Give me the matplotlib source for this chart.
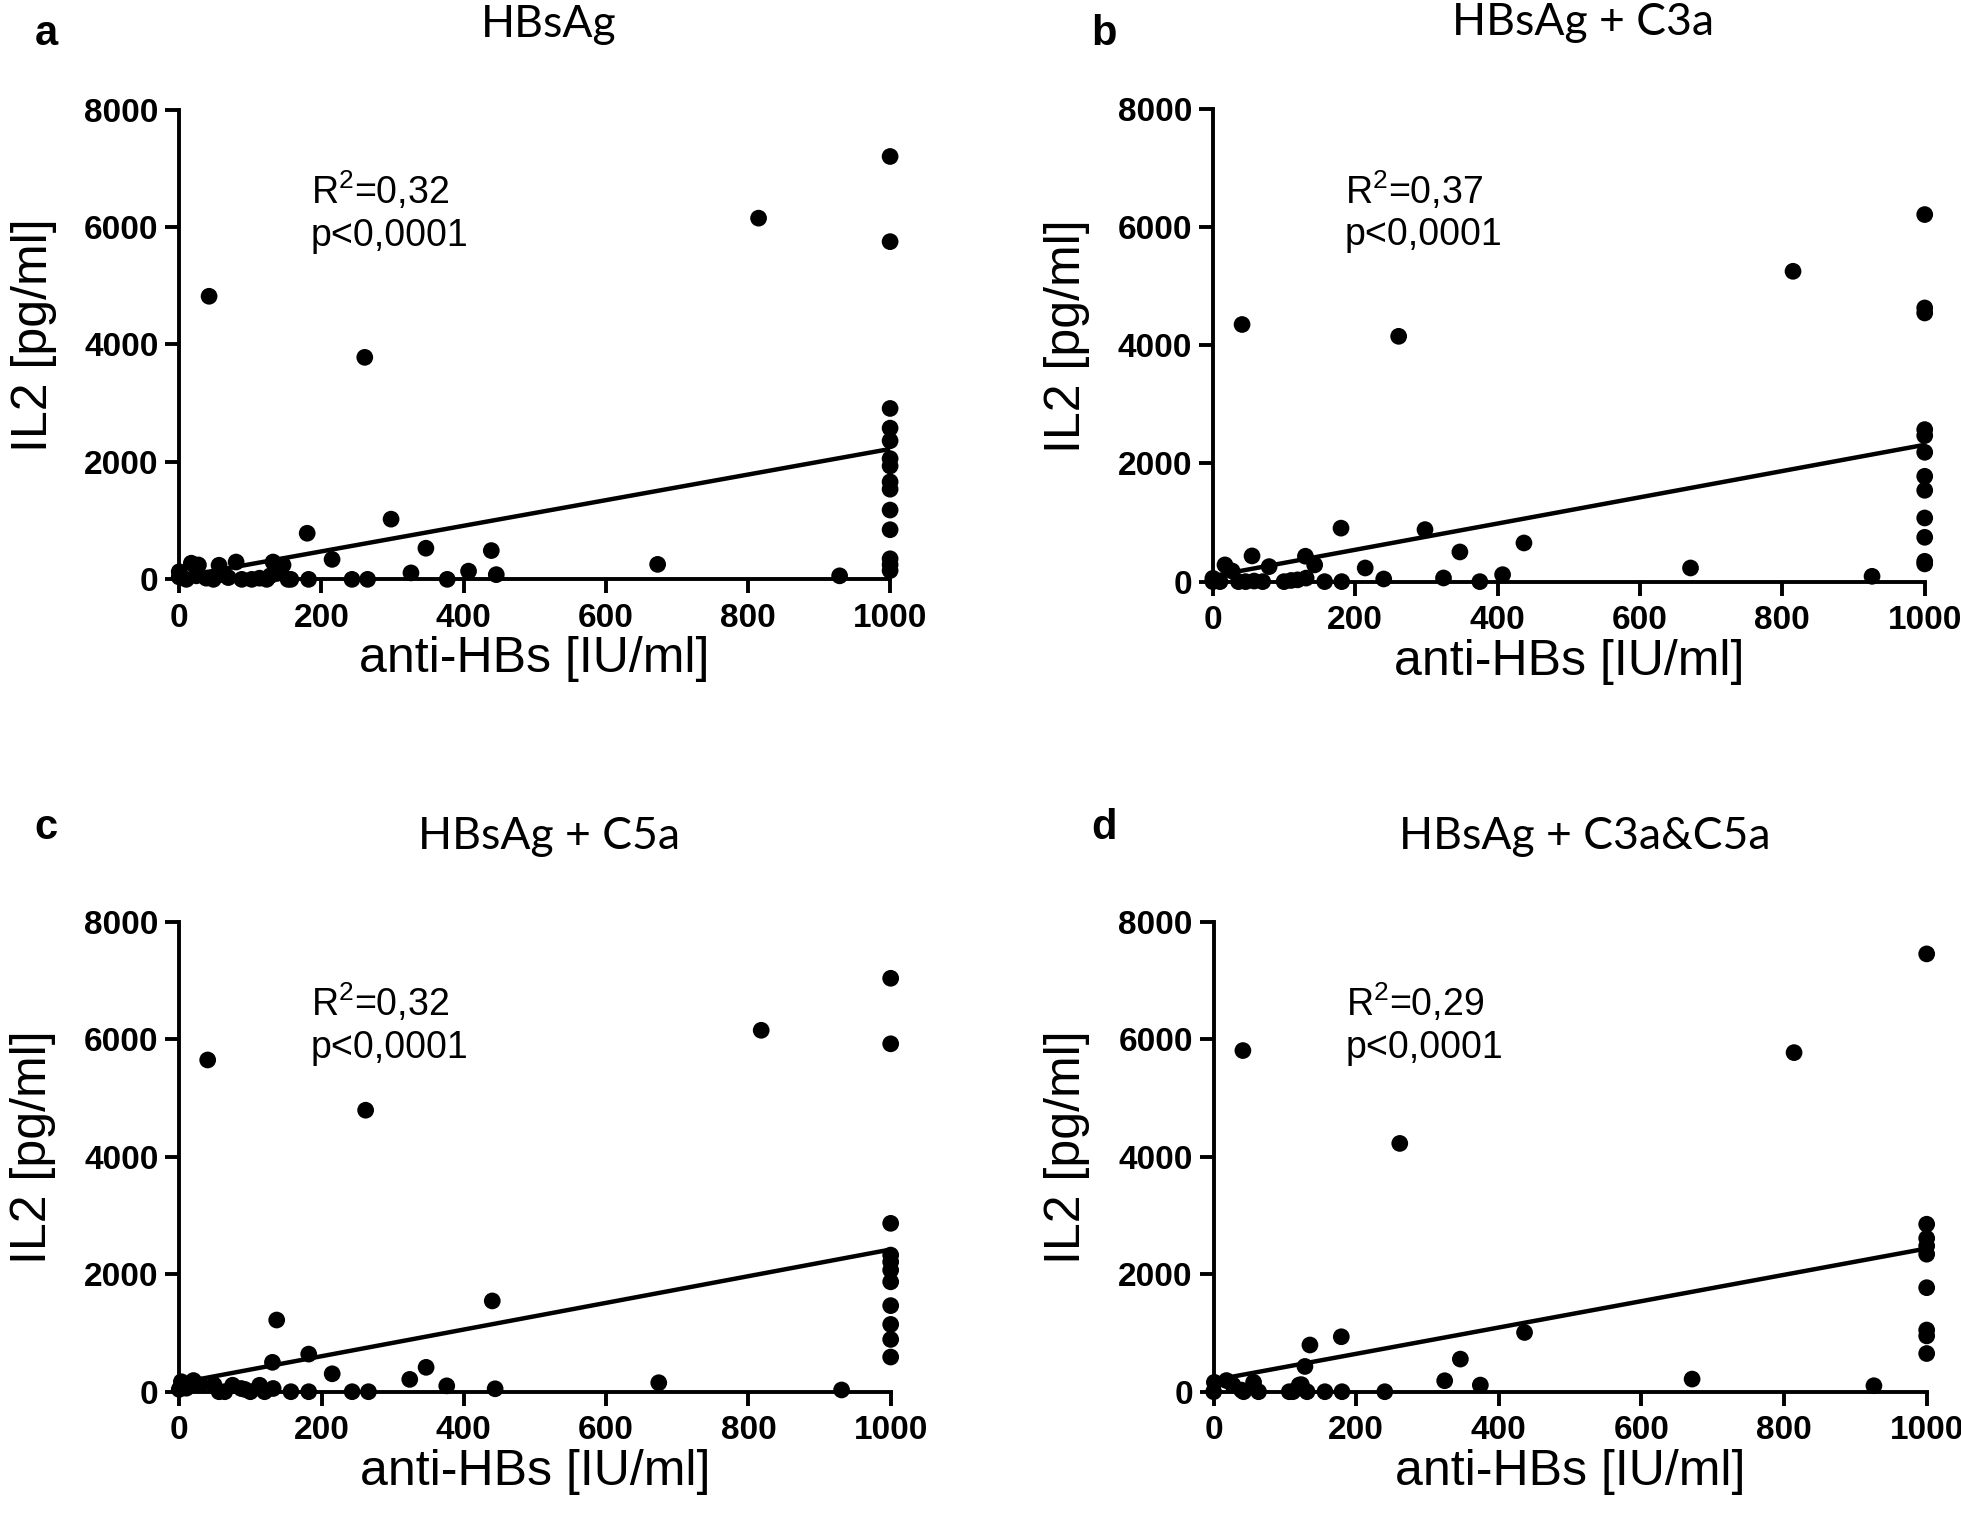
import matplotlib
matplotlib.use("Agg")
import matplotlib.pyplot as plt

# --- data: anti-HBs [IU/ml] vs IL2 [pg/ml] ---
A_X = [42, 261, 815, 180, 298, 215, 347, 439, 326, 407, 446, 673, 929, 377, 243, 265,
       157, 182, 132, 146, 80, 56, 17, 27, 0,
       0, 10, 24, 38, 48, 57, 69, 88, 102, 113, 123, 128, 137, 153,
       1000, 1000, 1000, 1000, 1000, 1000, 1000, 1000, 1000, 1000, 1000, 1000, 1000, 1000]
A_Y = [4820, 3780, 6150, 785, 1025, 340, 530, 490, 110, 140, 80, 255, 60, 0, 0, 0,
       0, 0, 295, 245, 295, 240, 275, 245, 130,
       40, 0, 60, 20, 0, 80, 30, 0, 0, 20, 0, 60, 100, 0,
       7200, 5750, 2910, 2575, 2360, 2055, 1930, 1660, 1535, 1180, 845, 350, 250, 150]

B_X = [41, 261, 815, 180, 298, 347, 437, 214, 671, 926, 407, 324, 240, 375, 181, 157,
       130, 143, 55, 79, 17, 27, 0,
       0, 10, 36, 46, 58, 70, 100, 110, 119, 131,
       1000, 1000, 1000, 1000, 1000, 1000, 1000, 1000, 1000, 1000, 1000, 1000]
B_Y = [4350, 4150, 5250, 905, 880, 502, 654, 231, 231, 90, 118, 62, 45, 0, 0, 0,
       430, 283, 435, 254, 283, 180, 56,
       0, 0, 0, 0, 10, 0, 0, 20, 30, 60,
       6210, 4630, 4545, 2572, 2470, 2188, 1782, 1545, 1077, 750, 344, 300]

C_X = [40, 262, 818, 137, 440, 182, 131, 215, 347, 324, 376, 444, 674, 931, 243, 266,
       182, 157, 113, 132, 20, 3,
       0, 10, 30, 49, 56, 64, 75, 87, 92, 100, 120,
       1000, 1000, 1000, 1000, 1000, 1000, 1000, 1000, 1000, 1000, 1000]
C_Y = [5645, 4790, 6150, 1220, 1545, 640, 500, 305, 415, 210, 100, 50, 153, 30, 0, 0,
       0, 0, 110, 55, 190, 170,
       40, 60, 115, 115, 0, 0, 110, 55, 40, 0, 0,
       7035, 5920, 2865, 2325, 2210, 2070, 1870, 1465, 1145, 890, 590]

D_X = [41, 261, 814, 436, 179, 135, 128, 346, 324, 374, 671, 926, 240, 180, 156, 131,
       123, 111, 63, 56, 42, 18, 1, 0, 27, 39, 106, 120,
       1000, 1000, 1000, 1000, 1000, 1000, 1000, 1000, 1000]
D_Y = [5805, 4225, 5770, 1008, 935, 795, 430, 555, 187, 113, 215, 102, 0, 0, 0, 0,
       120, 0, 0, 160, 0, 190, 160, 0, 114, 28, 0, 114,
       7450, 2850, 2610, 2480, 2340, 1770, 1050, 950, 650]

# linear fit lines (intercept, slope) as drawn in the figure
FITS = [(40, 2.18), (95, 2.22), (150, 2.27), (197, 2.24)]
R2_TEXT = ["0,32", "0,37", "0,32", "0,29"]
TITLES = ["HBsAg", "HBsAg + C3a", "HBsAg + C5a", "HBsAg + C3a&C5a"]
LETTERS = ["a", "b", "c", "d"]
X_TICKS = [0, 200, 400, 600, 800, 1000]
Y_TICKS = [0, 2000, 4000, 6000, 8000]

PANELS = [(A_X, A_Y), (B_X, B_Y), (C_X, C_Y), (D_X, D_Y)]
AX_RECTS = [
    (0.0914, 0.6196, 0.3625, 0.3085),
    (0.6185, 0.6181, 0.3630, 0.3105),
    (0.0914, 0.0862, 0.3628, 0.3087),
    (0.6189, 0.0862, 0.3636, 0.3087),
]
LETTER_POS = [(0.0235, 0.9705), (0.563, 0.9705), (0.0235, 0.449), (0.563, 0.449)]

SANS = ["Liberation Sans", "DejaVu Sans"]
NARROW = ["Liberation Sans Narrow", "Liberation Sans", "DejaVu Sans"]
TITLE_FONT = ["Lato", "Open Sans", "DejaVu Sans"]

plt.rcParams["font.family"] = SANS
plt.rcParams["mathtext.default"] = "regular"

fig = plt.figure(figsize=(19.61, 15.23), dpi=100)

for i, (xs, ys) in enumerate(PANELS):
    ax = fig.add_axes(AX_RECTS[i])
    ax.scatter(xs, ys, s=145, color="black", edgecolors="none", zorder=3, clip_on=False)

    b0, b1 = FITS[i]
    ax.plot([0, 1000], [b0, b0 + b1 * 1000], color="black", lw=3.2, zorder=2,
            clip_on=False, solid_capstyle="butt")

    ax.set_xlim(0, 1000)
    ax.set_ylim(0, 8000)
    ax.set_xticks(X_TICKS)
    ax.set_yticks(Y_TICKS)
    for side in ("top", "right"):
        ax.spines[side].set_visible(False)
    for side in ("left", "bottom"):
        ax.spines[side].set_linewidth(2.8)
    ax.tick_params(axis="both", direction="out", length=10, width=2.8, color="black")
    ax.tick_params(axis="x", pad=7)
    ax.tick_params(axis="y", pad=5)
    for lab in ax.get_xticklabels() + ax.get_yticklabels():
        lab.set_fontsize(24)
        lab.set_fontweight("bold")
        lab.set_family(SANS)

    ax.text(-0.205, 0.52, "IL2 [pg/ml]", transform=ax.transAxes, rotation=90,
            ha="center", va="center", fontsize=36, family=SANS)
    ax.text(0.5, -0.17, "anti-HBs [IU/ml]", transform=ax.transAxes,
            ha="center", va="center", fontsize=36, family=SANS)

    ax.text(185, 6980, f"R$^2$={R2_TEXT[i]}\np<0,0001", ha="left", va="top",
            fontsize=27, family=NARROW, linespacing=1.2)

    ax.text(0.52, 1.155, TITLES[i], transform=ax.transAxes, ha="center",
            va="baseline", fontsize=32, family=TITLE_FONT)

    fig.text(LETTER_POS[i][0], LETTER_POS[i][1], LETTERS[i], ha="center",
             va="baseline", fontsize=30, fontweight="bold", family=SANS)

fig.savefig("out.png", dpi=100, facecolor="white")
